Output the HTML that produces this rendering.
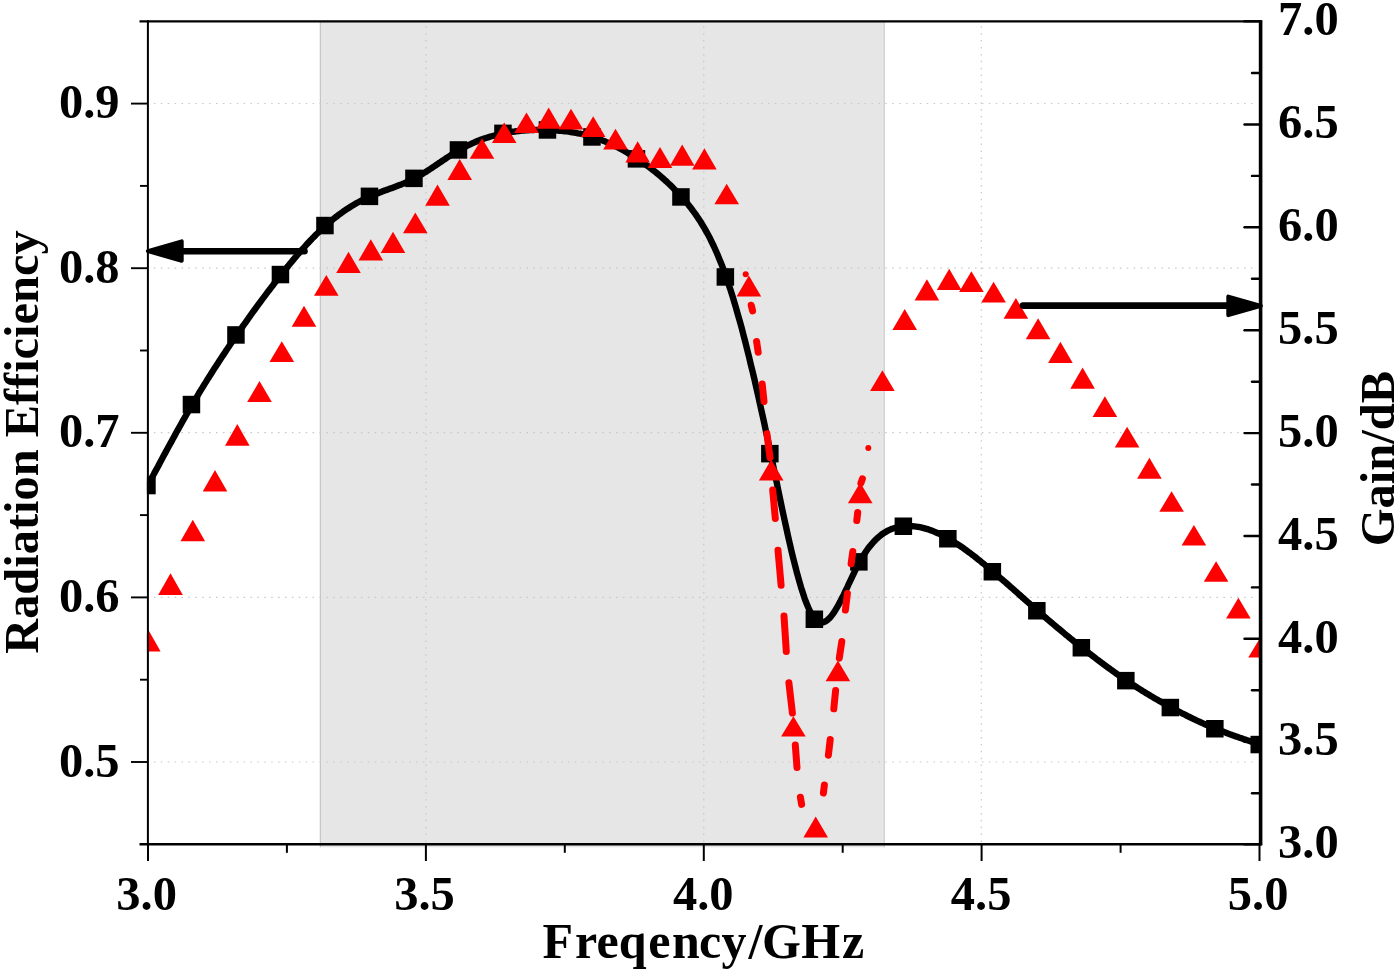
<!DOCTYPE html>
<html lang="en"><head><meta charset="utf-8"><title>Radiation Efficiency and Gain vs Frequency</title>
<style>html,body{margin:0;padding:0;background:#fff;}svg{display:block;}text{font-family:"Liberation Serif",serif;font-weight:bold;fill:#000;}</style>
</head><body>
<svg width="1400" height="973" viewBox="0 0 1400 973">
<rect x="0" y="0" width="1400" height="973" fill="#ffffff"/>
<defs><clipPath id="plot"><rect x="146.9" y="21.3" width="1113.6999999999998" height="827.0"/></clipPath></defs>
<rect x="320.0" y="21.8" width="564.9" height="825.5" fill="#e6e6e6"/>
<line x1="320.4" y1="21.8" x2="320.4" y2="847.3" stroke="#c6c6c6" stroke-width="1.3"/>
<line x1="884.3" y1="21.8" x2="884.3" y2="847.3" stroke="#d2d2d2" stroke-width="1.4"/>
<g stroke="#c8c8c8" stroke-width="1.2" stroke-dasharray="1.5 5.4" fill="none">
<line x1="153.9" y1="103.5" x2="1257.6" y2="103.5"/>
<line x1="153.9" y1="268.1" x2="1257.6" y2="268.1"/>
<line x1="153.9" y1="432.7" x2="1257.6" y2="432.7"/>
<line x1="153.9" y1="597.4" x2="1257.6" y2="597.4"/>
<line x1="153.9" y1="762.0" x2="1257.6" y2="762.0"/>
<line x1="426.0" y1="26.3" x2="426.0" y2="842.3"/>
<line x1="703.8" y1="26.3" x2="703.8" y2="842.3"/>
<line x1="981.3" y1="26.3" x2="981.3" y2="842.3"/>
</g>
<g clip-path="url(#plot)">
<path d="M146.8,487.4 L148.7,483.9 L150.5,480.4 L152.4,476.9 L154.2,473.4 L156.1,469.9 L158.0,466.5 L159.8,463.0 L161.7,459.5 L163.5,456.1 L165.4,452.6 L167.2,449.2 L169.1,445.8 L171.0,442.4 L172.8,439.0 L174.7,435.6 L176.5,432.2 L178.4,428.9 L180.3,425.5 L182.1,422.2 L184.0,418.9 L185.8,415.7 L187.7,412.4 L189.5,409.2 L191.4,406.0 L193.3,402.8 L195.1,399.7 L197.0,396.6 L198.8,393.5 L200.7,390.4 L202.6,387.4 L204.4,384.4 L206.3,381.4 L208.1,378.4 L210.0,375.5 L211.9,372.5 L213.7,369.6 L215.6,366.7 L217.4,363.9 L219.3,361.0 L221.1,358.2 L223.0,355.4 L224.9,352.6 L226.7,349.8 L228.6,347.0 L230.4,344.3 L232.3,341.5 L234.2,338.8 L236.0,336.1 L237.9,333.4 L239.7,330.7 L241.6,328.1 L243.4,325.4 L245.3,322.8 L247.2,320.1 L249.0,317.5 L250.9,314.9 L252.7,312.3 L254.6,309.8 L256.5,307.2 L258.3,304.7 L260.2,302.1 L262.0,299.6 L263.9,297.1 L265.8,294.6 L267.6,292.2 L269.5,289.7 L271.3,287.3 L273.2,284.9 L275.0,282.4 L276.9,280.1 L278.8,277.7 L280.6,275.3 L282.5,273.0 L284.3,270.7 L286.2,268.4 L288.1,266.1 L289.9,263.8 L291.8,261.6 L293.6,259.4 L295.5,257.2 L297.3,255.0 L299.2,252.8 L301.1,250.7 L302.9,248.6 L304.8,246.6 L306.6,244.5 L308.5,242.5 L310.4,240.5 L312.2,238.6 L314.1,236.7 L315.9,234.8 L317.8,233.0 L319.6,231.2 L321.5,229.4 L323.4,227.7 L325.2,226.0 L327.1,224.3 L328.9,222.7 L330.8,221.2 L332.7,219.6 L334.5,218.1 L336.4,216.7 L338.2,215.2 L340.1,213.9 L342.0,212.5 L343.8,211.2 L345.7,209.9 L347.5,208.7 L349.4,207.5 L351.2,206.3 L353.1,205.2 L355.0,204.1 L356.8,203.0 L358.7,202.0 L360.5,201.0 L362.4,200.0 L364.3,199.1 L366.1,198.2 L368.0,197.3 L369.8,196.5 L371.7,195.7 L373.5,194.9 L375.4,194.1 L377.3,193.4 L379.1,192.7 L381.0,192.0 L382.8,191.3 L384.7,190.6 L386.6,189.9 L388.4,189.3 L390.3,188.6 L392.1,187.9 L394.0,187.2 L395.9,186.5 L397.7,185.8 L399.6,185.1 L401.4,184.4 L403.3,183.6 L405.1,182.8 L407.0,182.0 L408.9,181.2 L410.7,180.3 L412.6,179.4 L414.4,178.5 L416.3,177.5 L418.2,176.4 L420.0,175.4 L421.9,174.3 L423.7,173.1 L425.6,172.0 L427.4,170.8 L429.3,169.6 L431.2,168.4 L433.0,167.1 L434.9,165.9 L436.7,164.6 L438.6,163.3 L440.5,162.1 L442.3,160.8 L444.2,159.6 L446.0,158.3 L447.9,157.1 L449.8,155.9 L451.6,154.7 L453.5,153.5 L455.3,152.3 L457.2,151.2 L459.0,150.1 L460.9,149.1 L462.8,148.0 L464.6,147.0 L466.5,146.1 L468.3,145.2 L470.2,144.3 L472.1,143.4 L473.9,142.6 L475.8,141.8 L477.6,141.0 L479.5,140.3 L481.3,139.6 L483.2,138.9 L485.1,138.3 L486.9,137.7 L488.8,137.1 L490.6,136.5 L492.5,136.0 L494.4,135.5 L496.2,135.0 L498.1,134.5 L499.9,134.1 L501.8,133.7 L503.7,133.3 L505.5,133.0 L507.4,132.6 L509.2,132.3 L511.1,132.0 L512.9,131.7 L514.8,131.5 L516.7,131.2 L518.5,131.0 L520.4,130.8 L522.2,130.6 L524.1,130.5 L526.0,130.3 L527.8,130.2 L529.7,130.1 L531.5,130.0 L533.4,130.0 L535.2,129.9 L537.1,129.9 L539.0,129.9 L540.8,129.9 L542.7,129.9 L544.5,129.9 L546.4,129.9 L548.3,130.0 L550.1,130.1 L552.0,130.2 L553.8,130.3 L555.7,130.4 L557.6,130.5 L559.4,130.7 L561.3,130.8 L563.1,131.0 L565.0,131.2 L566.8,131.4 L568.7,131.7 L570.6,132.0 L572.4,132.3 L574.3,132.6 L576.1,132.9 L578.0,133.3 L579.9,133.6 L581.7,134.0 L583.6,134.5 L585.4,134.9 L587.3,135.4 L589.1,135.9 L591.0,136.5 L592.9,137.0 L594.7,137.6 L596.6,138.3 L598.4,138.9 L600.3,139.6 L602.2,140.3 L604.0,141.1 L605.9,141.8 L607.7,142.6 L609.6,143.5 L611.4,144.3 L613.3,145.2 L615.2,146.1 L617.0,147.0 L618.9,148.0 L620.7,149.0 L622.6,150.0 L624.5,151.0 L626.3,152.1 L628.2,153.2 L630.0,154.3 L631.9,155.4 L633.8,156.6 L635.6,157.8 L637.5,159.0 L639.3,160.2 L641.2,161.5 L643.0,162.7 L644.9,164.0 L646.8,165.4 L648.6,166.7 L650.5,168.1 L652.3,169.6 L654.2,171.0 L656.1,172.5 L657.9,174.0 L659.8,175.6 L661.6,177.2 L663.5,178.8 L665.3,180.5 L667.2,182.2 L669.1,184.0 L670.9,185.7 L672.8,187.6 L674.6,189.5 L676.5,191.4 L678.4,193.3 L680.2,195.4 L682.1,197.4 L683.9,199.5 L685.8,201.7 L687.7,203.9 L689.5,206.2 L691.4,208.6 L693.2,211.1 L695.1,213.6 L696.9,216.3 L698.8,219.1 L700.7,222.0 L702.5,225.0 L704.4,228.1 L706.2,231.4 L708.1,234.8 L710.0,238.3 L711.8,242.1 L713.7,246.0 L715.5,250.0 L717.4,254.3 L719.2,258.7 L721.1,263.3 L723.0,268.1 L724.8,273.1 L726.7,278.4 L728.5,283.9 L730.4,289.5 L732.3,295.4 L734.1,301.5 L736.0,307.8 L737.8,314.3 L739.7,320.9 L741.6,327.7 L743.4,334.7 L745.3,341.9 L747.1,349.2 L749.0,356.7 L750.8,364.4 L752.7,372.1 L754.6,380.1 L756.4,388.1 L758.3,396.3 L760.1,404.6 L762.0,413.0 L763.9,421.5 L765.7,430.1 L767.6,438.8 L769.4,447.6 L771.3,456.5 L773.1,465.4 L775.0,474.4 L776.9,483.4 L778.7,492.4 L780.6,501.3 L782.4,510.2 L784.3,518.9 L786.2,527.5 L788.0,535.9 L789.9,544.1 L791.7,552.0 L793.6,559.7 L795.5,567.1 L797.3,574.2 L799.2,580.9 L801.0,587.2 L802.9,593.1 L804.7,598.6 L806.6,603.5 L808.5,608.0 L810.3,611.9 L812.2,615.2 L814.0,617.9 L815.9,620.0 L817.8,621.5 L819.6,622.3 L821.5,622.6 L823.3,622.3 L825.2,621.6 L827.0,620.4 L828.9,618.7 L830.8,616.7 L832.6,614.3 L834.5,611.6 L836.3,608.6 L838.2,605.4 L840.1,601.9 L841.9,598.3 L843.8,594.6 L845.6,590.7 L847.5,586.8 L849.3,582.8 L851.2,578.9 L853.1,574.9 L854.9,571.1 L856.8,567.4 L858.6,563.8 L860.5,560.4 L862.4,557.2 L864.2,554.2 L866.1,551.4 L867.9,548.8 L869.8,546.3 L871.7,544.1 L873.5,542.0 L875.4,540.0 L877.2,538.2 L879.1,536.6 L880.9,535.1 L882.8,533.7 L884.7,532.5 L886.5,531.4 L888.4,530.4 L890.2,529.6 L892.1,528.8 L894.0,528.2 L895.8,527.6 L897.7,527.2 L899.5,526.8 L901.4,526.5 L903.2,526.3 L905.1,526.1 L907.0,526.1 L908.8,526.0 L910.7,526.1 L912.5,526.2 L914.4,526.4 L916.3,526.6 L918.1,526.9 L920.0,527.2 L921.8,527.6 L923.7,528.1 L925.6,528.6 L927.4,529.1 L929.3,529.8 L931.1,530.4 L933.0,531.1 L934.8,531.9 L936.7,532.7 L938.6,533.5 L940.4,534.4 L942.3,535.3 L944.1,536.3 L946.0,537.3 L947.9,538.3 L949.7,539.4 L951.6,540.5 L953.4,541.6 L955.3,542.8 L957.1,544.0 L959.0,545.2 L960.9,546.5 L962.7,547.7 L964.6,549.1 L966.4,550.4 L968.3,551.8 L970.2,553.1 L972.0,554.6 L973.9,556.0 L975.7,557.4 L977.6,558.9 L979.5,560.4 L981.3,561.9 L983.2,563.4 L985.0,564.9 L986.9,566.5 L988.7,568.0 L990.6,569.6 L992.5,571.2 L994.3,572.8 L996.2,574.3 L998.0,575.9 L999.9,577.6 L1001.8,579.2 L1003.6,580.8 L1005.5,582.4 L1007.3,584.0 L1009.2,585.7 L1011.0,587.3 L1012.9,588.9 L1014.8,590.6 L1016.6,592.2 L1018.5,593.9 L1020.3,595.5 L1022.2,597.2 L1024.1,598.8 L1025.9,600.5 L1027.8,602.1 L1029.6,603.7 L1031.5,605.4 L1033.4,607.0 L1035.2,608.6 L1037.1,610.3 L1038.9,611.9 L1040.8,613.5 L1042.6,615.1 L1044.5,616.7 L1046.4,618.3 L1048.2,619.9 L1050.1,621.5 L1051.9,623.0 L1053.8,624.6 L1055.7,626.2 L1057.5,627.7 L1059.4,629.3 L1061.2,630.8 L1063.1,632.4 L1064.9,633.9 L1066.8,635.4 L1068.7,637.0 L1070.5,638.5 L1072.4,640.0 L1074.2,641.5 L1076.1,643.0 L1078.0,644.5 L1079.8,646.0 L1081.7,647.4 L1083.5,648.9 L1085.4,650.4 L1087.3,651.8 L1089.1,653.3 L1091.0,654.7 L1092.8,656.1 L1094.7,657.6 L1096.5,659.0 L1098.4,660.4 L1100.3,661.8 L1102.1,663.2 L1104.0,664.6 L1105.8,665.9 L1107.7,667.3 L1109.6,668.7 L1111.4,670.0 L1113.3,671.3 L1115.1,672.7 L1117.0,674.0 L1118.8,675.3 L1120.7,676.6 L1122.6,677.8 L1124.4,679.1 L1126.3,680.4 L1128.1,681.6 L1130.0,682.9 L1131.9,684.1 L1133.7,685.3 L1135.6,686.5 L1137.4,687.7 L1139.3,688.9 L1141.1,690.0 L1143.0,691.2 L1144.9,692.3 L1146.7,693.5 L1148.6,694.6 L1150.4,695.7 L1152.3,696.8 L1154.2,697.9 L1156.0,699.0 L1157.9,700.1 L1159.7,701.2 L1161.6,702.2 L1163.5,703.3 L1165.3,704.3 L1167.2,705.3 L1169.0,706.4 L1170.9,707.4 L1172.7,708.4 L1174.6,709.4 L1176.5,710.4 L1178.3,711.3 L1180.2,712.3 L1182.0,713.3 L1183.9,714.2 L1185.8,715.1 L1187.6,716.1 L1189.5,717.0 L1191.3,717.9 L1193.2,718.8 L1195.0,719.7 L1196.9,720.6 L1198.8,721.4 L1200.6,722.3 L1202.5,723.1 L1204.3,724.0 L1206.2,724.8 L1208.1,725.6 L1209.9,726.4 L1211.8,727.2 L1213.6,727.9 L1215.5,728.7 L1217.4,729.5 L1219.2,730.2 L1221.1,730.9 L1222.9,731.6 L1224.8,732.3 L1226.6,733.0 L1228.5,733.7 L1230.4,734.4 L1232.2,735.1 L1234.1,735.7 L1235.9,736.4 L1237.8,737.0 L1239.7,737.7 L1241.5,738.3 L1243.4,739.0 L1245.2,739.6 L1247.1,740.2 L1248.9,740.8 L1250.8,741.4 L1252.7,742.1 L1254.5,742.7 L1256.4,743.3 L1258.2,743.9 L1260.1,744.5" fill="none" stroke="#000" stroke-width="6.4" stroke-linejoin="round" stroke-linecap="round"/>
<rect x="138.2" y="476.8" width="17.5" height="17.5" fill="#000"/>
<rect x="182.7" y="395.8" width="17.5" height="17.5" fill="#000"/>
<rect x="227.2" y="326.2" width="17.5" height="17.5" fill="#000"/>
<rect x="271.7" y="265.8" width="17.5" height="17.5" fill="#000"/>
<rect x="316.2" y="216.8" width="17.5" height="17.5" fill="#000"/>
<rect x="360.7" y="187.6" width="17.5" height="17.5" fill="#000"/>
<rect x="405.2" y="169.6" width="17.5" height="17.5" fill="#000"/>
<rect x="449.7" y="141.2" width="17.5" height="17.5" fill="#000"/>
<rect x="494.2" y="124.6" width="17.5" height="17.5" fill="#000"/>
<rect x="538.7" y="121.2" width="17.5" height="17.5" fill="#000"/>
<rect x="583.2" y="128.2" width="17.5" height="17.5" fill="#000"/>
<rect x="627.7" y="150.1" width="17.5" height="17.5" fill="#000"/>
<rect x="672.2" y="188.2" width="17.5" height="17.5" fill="#000"/>
<rect x="716.6" y="268.2" width="17.5" height="17.5" fill="#000"/>
<rect x="761.1" y="444.9" width="17.5" height="17.5" fill="#000"/>
<rect x="805.6" y="610.5" width="17.5" height="17.5" fill="#000"/>
<rect x="850.1" y="553.1" width="17.5" height="17.5" fill="#000"/>
<rect x="894.6" y="517.5" width="17.5" height="17.5" fill="#000"/>
<rect x="939.1" y="530.0" width="17.5" height="17.5" fill="#000"/>
<rect x="983.6" y="563.0" width="17.5" height="17.5" fill="#000"/>
<rect x="1028.1" y="602.0" width="17.5" height="17.5" fill="#000"/>
<rect x="1072.6" y="639.0" width="17.5" height="17.5" fill="#000"/>
<rect x="1117.1" y="671.9" width="17.5" height="17.5" fill="#000"/>
<rect x="1161.6" y="698.8" width="17.5" height="17.5" fill="#000"/>
<rect x="1206.1" y="720.0" width="17.5" height="17.5" fill="#000"/>
<rect x="1250.5" y="735.8" width="17.5" height="17.5" fill="#000"/>
<g stroke="#ff0000" stroke-width="7.0" stroke-linecap="round" fill="none">
<line x1="745.7" y1="274.2" x2="745.71" y2="274.2" stroke-width="6"/>
<line x1="751.2" y1="305.2" x2="752.6" y2="310.9"/>
<line x1="756.6" y1="341.5" x2="758.2" y2="352.2"/>
<line x1="762.2" y1="384.0" x2="764.0" y2="401.4"/>
<line x1="766.9" y1="433.6" x2="770.0" y2="457.5"/>
<line x1="772.7" y1="489.9" x2="775.3" y2="518.5"/>
<line x1="778.0" y1="550.3" x2="781.1" y2="585.3"/>
<line x1="784.0" y1="616.1" x2="786.3" y2="651.6"/>
<line x1="788.9" y1="682.8" x2="792.4" y2="713.1"/>
<line x1="795.3" y1="744.9" x2="797.0" y2="767.5"/>
<line x1="800.4" y1="797.2" x2="801.6" y2="804.4"/>
<line x1="823.4" y1="793.0" x2="824.4" y2="784.9"/>
<line x1="828.4" y1="755.2" x2="830.2" y2="739.5"/>
<line x1="833.8" y1="708.8" x2="835.6" y2="690.5"/>
<line x1="839.3" y1="658.1" x2="841.8" y2="641.5"/>
<line x1="845.4" y1="610.1" x2="847.4" y2="593.4"/>
<line x1="851.1" y1="563.8" x2="852.8" y2="551.4"/>
<line x1="856.8" y1="520.6" x2="857.7" y2="512.5"/>
<line x1="860.9" y1="483.1" x2="862.4" y2="478.9"/>
<line x1="868.3" y1="448.0" x2="868.31" y2="448.0" stroke-width="6"/>
</g>
<g fill="#ff0000">
<polygon points="148.3,629.8 160.6,651.4 136.0,651.4"/>
<polygon points="170.5,573.3 182.8,594.9 158.2,594.9"/>
<polygon points="192.8,519.7 205.1,541.3 180.5,541.3"/>
<polygon points="215.0,470.0 227.3,491.6 202.7,491.6"/>
<polygon points="237.3,424.1 249.6,445.7 225.0,445.7"/>
<polygon points="259.5,381.0 271.8,402.0 247.2,402.0"/>
<polygon points="281.8,341.2 294.1,362.0 269.5,362.0"/>
<polygon points="304.0,305.8 316.3,326.8 291.7,326.8"/>
<polygon points="326.3,275.0 338.6,295.8 314.0,295.8"/>
<polygon points="348.5,251.8 360.8,273.0 336.2,273.0"/>
<polygon points="370.8,239.2 383.1,260.5 358.5,260.5"/>
<polygon points="393.0,231.8 405.3,253.0 380.7,253.0"/>
<polygon points="415.3,212.5 427.6,233.2 403.0,233.2"/>
<polygon points="437.5,184.5 449.8,205.8 425.2,205.8"/>
<polygon points="459.7,159.0 472.0,180.0 447.4,180.0"/>
<polygon points="482.0,138.2 494.3,158.8 469.7,158.8"/>
<polygon points="504.2,122.5 516.5,143.0 491.9,143.0"/>
<polygon points="526.5,112.5 538.8,133.0 514.2,133.0"/>
<polygon points="548.7,107.5 561.0,128.8 536.4,128.8"/>
<polygon points="571.0,108.8 583.3,129.5 558.7,129.5"/>
<polygon points="593.2,116.2 605.5,137.0 580.9,137.0"/>
<polygon points="615.5,128.8 627.8,149.5 603.2,149.5"/>
<polygon points="637.7,141.2 650.0,162.5 625.4,162.5"/>
<polygon points="660.0,147.0 672.3,168.0 647.7,168.0"/>
<polygon points="682.2,144.5 694.5,165.8 669.9,165.8"/>
<polygon points="704.4,148.2 716.7,169.5 692.1,169.5"/>
<polygon points="726.7,183.8 739.0,204.2 714.4,204.2"/>
<polygon points="748.9,275.5 761.2,296.5 736.6,296.5"/>
<polygon points="771.2,459.5 783.5,480.5 758.9,480.5"/>
<polygon points="793.4,716.2 805.7,736.4 781.1,736.4"/>
<polygon points="815.7,816.5 828.0,837.5 803.4,837.5"/>
<polygon points="837.9,660.5 850.2,681.3 825.6,681.3"/>
<polygon points="860.2,482.5 872.5,503.2 847.9,503.2"/>
<polygon points="882.4,370.3 894.7,391.0 870.1,391.0"/>
<polygon points="904.7,309.1 917.0,330.0 892.4,330.0"/>
<polygon points="926.9,279.3 939.2,300.5 914.6,300.5"/>
<polygon points="949.2,268.8 961.5,290.0 936.9,290.0"/>
<polygon points="971.4,271.2 983.7,292.0 959.1,292.0"/>
<polygon points="993.6,281.8 1005.9,302.5 981.3,302.5"/>
<polygon points="1015.9,298.0 1028.2,318.8 1003.6,318.8"/>
<polygon points="1038.1,318.2 1050.4,339.2 1025.8,339.2"/>
<polygon points="1060.4,341.8 1072.7,363.0 1048.1,363.0"/>
<polygon points="1082.6,367.5 1094.9,388.8 1070.3,388.8"/>
<polygon points="1104.9,396.2 1117.2,417.0 1092.6,417.0"/>
<polygon points="1127.1,426.8 1139.4,447.5 1114.8,447.5"/>
<polygon points="1149.4,457.8 1161.7,478.8 1137.1,478.8"/>
<polygon points="1171.6,491.2 1183.9,511.8 1159.3,511.8"/>
<polygon points="1193.9,525.0 1206.2,545.5 1181.6,545.5"/>
<polygon points="1216.1,561.2 1228.4,581.8 1203.8,581.8"/>
<polygon points="1238.4,597.8 1250.7,618.5 1226.1,618.5"/>
<polygon points="1260.6,637.0 1272.9,657.5 1248.3,657.5"/>
</g>
</g>
<g stroke="#000" fill="none" stroke-linecap="butt">
<line x1="147.9" y1="20.3" x2="147.9" y2="845.3" stroke-width="2"/>
<line x1="139.5" y1="21.3" x2="1262.1" y2="21.3" stroke-width="2.2"/>
<line x1="139.5" y1="844.3" x2="1262.1" y2="844.3" stroke-width="2.4"/>
<line x1="1260.6" y1="20.3" x2="1260.6" y2="845.3" stroke-width="3.6"/>
<line x1="131.0" y1="762.0" x2="147.9" y2="762.0" stroke-width="1.9"/>
<line x1="140.0" y1="679.7" x2="147.9" y2="679.7" stroke-width="1.9"/>
<line x1="131.0" y1="597.4" x2="147.9" y2="597.4" stroke-width="1.9"/>
<line x1="140.0" y1="515.1" x2="147.9" y2="515.1" stroke-width="1.9"/>
<line x1="131.0" y1="432.8" x2="147.9" y2="432.8" stroke-width="1.9"/>
<line x1="140.0" y1="350.5" x2="147.9" y2="350.5" stroke-width="1.9"/>
<line x1="131.0" y1="268.2" x2="147.9" y2="268.2" stroke-width="1.9"/>
<line x1="140.0" y1="185.9" x2="147.9" y2="185.9" stroke-width="1.9"/>
<line x1="131.0" y1="103.6" x2="147.9" y2="103.6" stroke-width="1.9"/>
<line x1="1243.5" y1="844.3" x2="1260.6" y2="844.3" stroke-width="2.4"/>
<line x1="1252.0" y1="793.2" x2="1260.6" y2="793.2" stroke-width="2.4" stroke-linecap="round"/>
<line x1="1244.5" y1="741.7" x2="1260.6" y2="741.7" stroke-width="2.4" stroke-linecap="round"/>
<line x1="1252.0" y1="690.3" x2="1260.6" y2="690.3" stroke-width="2.4" stroke-linecap="round"/>
<line x1="1244.5" y1="638.8" x2="1260.6" y2="638.8" stroke-width="2.4" stroke-linecap="round"/>
<line x1="1252.0" y1="587.4" x2="1260.6" y2="587.4" stroke-width="2.4" stroke-linecap="round"/>
<line x1="1244.5" y1="536.0" x2="1260.6" y2="536.0" stroke-width="2.4" stroke-linecap="round"/>
<line x1="1252.0" y1="484.5" x2="1260.6" y2="484.5" stroke-width="2.4" stroke-linecap="round"/>
<line x1="1244.5" y1="433.1" x2="1260.6" y2="433.1" stroke-width="2.4" stroke-linecap="round"/>
<line x1="1252.0" y1="381.7" x2="1260.6" y2="381.7" stroke-width="2.4" stroke-linecap="round"/>
<line x1="1244.5" y1="330.2" x2="1260.6" y2="330.2" stroke-width="2.4" stroke-linecap="round"/>
<line x1="1252.0" y1="278.8" x2="1260.6" y2="278.8" stroke-width="2.4" stroke-linecap="round"/>
<line x1="1244.5" y1="227.3" x2="1260.6" y2="227.3" stroke-width="2.4" stroke-linecap="round"/>
<line x1="1252.0" y1="175.9" x2="1260.6" y2="175.9" stroke-width="2.4" stroke-linecap="round"/>
<line x1="1244.5" y1="124.5" x2="1260.6" y2="124.5" stroke-width="2.4" stroke-linecap="round"/>
<line x1="1252.0" y1="73.0" x2="1260.6" y2="73.0" stroke-width="2.4" stroke-linecap="round"/>
<line x1="1243.5" y1="21.3" x2="1260.6" y2="21.3" stroke-width="2.4"/>
<line x1="148.0" y1="844.3" x2="148.0" y2="861.0" stroke-width="2"/>
<line x1="286.9" y1="844.3" x2="286.9" y2="852.8" stroke-width="2"/>
<line x1="425.9" y1="844.3" x2="425.9" y2="861.0" stroke-width="2"/>
<line x1="564.8" y1="844.3" x2="564.8" y2="852.8" stroke-width="2"/>
<line x1="703.8" y1="844.3" x2="703.8" y2="861.0" stroke-width="2"/>
<line x1="842.7" y1="844.3" x2="842.7" y2="852.8" stroke-width="2"/>
<line x1="981.6" y1="844.3" x2="981.6" y2="861.0" stroke-width="2"/>
<line x1="1120.6" y1="844.3" x2="1120.6" y2="852.8" stroke-width="2"/>
<line x1="1259.5" y1="844.3" x2="1259.5" y2="861.0" stroke-width="2"/>
</g>
<g stroke="#000" fill="#000" stroke-linejoin="round" stroke-linecap="round">
<line x1="182" y1="251.2" x2="304.5" y2="251.2" stroke-width="6.6"/>
<polygon points="147.9,251.1 181.7,241.4 181.7,260.8" stroke-width="4"/>
<line x1="1023" y1="305.6" x2="1228" y2="305.6" stroke-width="6.6"/>
<polygon points="1260.9,305.9 1228.3,296.6 1228.3,315.2" stroke-width="4"/>
</g>
<text x="119.5" y="776.5" font-size="48.5" text-anchor="end">0.5</text>
<text x="119.5" y="611.9" font-size="48.5" text-anchor="end">0.6</text>
<text x="119.5" y="447.3" font-size="48.5" text-anchor="end">0.7</text>
<text x="119.5" y="282.7" font-size="48.5" text-anchor="end">0.8</text>
<text x="119.5" y="118.1" font-size="48.5" text-anchor="end">0.9</text>
<text x="1278.0" y="858.3" font-size="48.5" text-anchor="start">3.0</text>
<text x="1278.0" y="755.4" font-size="48.5" text-anchor="start">3.5</text>
<text x="1278.0" y="652.5" font-size="48.5" text-anchor="start">4.0</text>
<text x="1278.0" y="549.7" font-size="48.5" text-anchor="start">4.5</text>
<text x="1278.0" y="446.8" font-size="48.5" text-anchor="start">5.0</text>
<text x="1278.0" y="343.9" font-size="48.5" text-anchor="start">5.5</text>
<text x="1278.0" y="241.0" font-size="48.5" text-anchor="start">6.0</text>
<text x="1278.0" y="138.2" font-size="48.5" text-anchor="start">6.5</text>
<text x="1278.0" y="35.3" font-size="48.5" text-anchor="start">7.0</text>
<text x="146.6" y="909.6" font-size="48.5" text-anchor="middle">3.0</text>
<text x="424.5" y="909.6" font-size="48.5" text-anchor="middle">3.5</text>
<text x="703.2" y="909.6" font-size="48.5" text-anchor="middle">4.0</text>
<text x="981.1" y="909.6" font-size="48.5" text-anchor="middle">4.5</text>
<text x="1258.1" y="909.6" font-size="48.5" text-anchor="middle">5.0</text>
<text x="542.5 575.1 596.5 618.85 648.3 671.9 699.1 721.6 748.6 761.9 801.25 842" y="957.9" font-size="50" text-anchor="start">Freqency/GHz</text>
<text transform="translate(37.8,442.1) rotate(-90)" font-size="48.4" text-anchor="middle">Radiation Efficiency</text>
<text transform="translate(1394.4,458.6) rotate(-90)" font-size="48.5" text-anchor="middle">Gain/dB</text>
</svg>
</body></html>
